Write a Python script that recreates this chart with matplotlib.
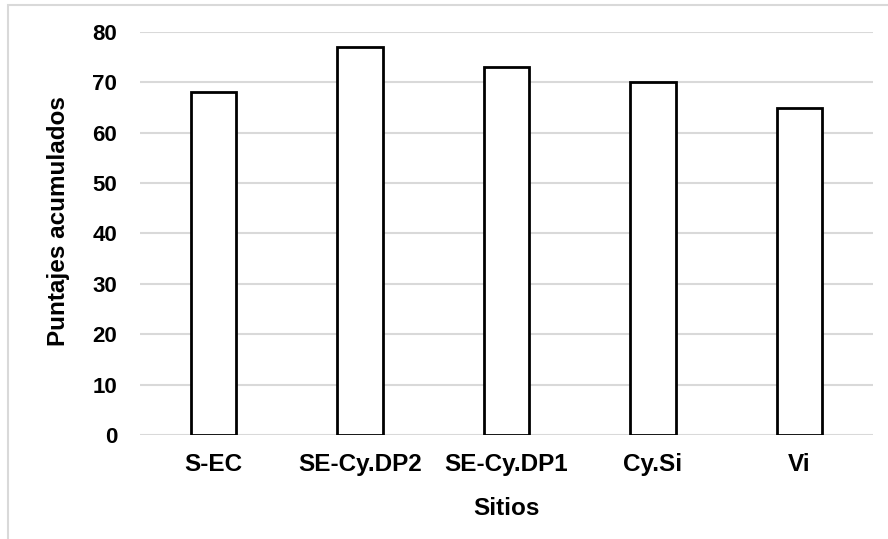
import matplotlib
matplotlib.use("Agg")
import matplotlib.pyplot as plt
from matplotlib.patches import Rectangle

sitios = ["S-EC", "SE-Cy.DP2", "SE-Cy.DP1", "Cy.Si", "Vi"]
puntajes = [68, 77, 73, 70, 65]
y_ticks = [0, 10, 20, 30, 40, 50, 60, 70, 80]

plt.rcParams['font.family'] = ['Liberation Sans', 'DejaVu Sans']
plt.rcParams['font.weight'] = 'bold'

fig = plt.figure(figsize=(8.88, 5.39), dpi=100)
ax = fig.add_axes([0.1577, 0.193, 0.8253, 0.7476])

x = range(len(sitios))
ax.bar(x, puntajes, width=0.31, color='white', edgecolor='black', linewidth=2, zorder=3)

ax.set_xlim(-0.5, len(sitios) - 0.5)
ax.set_ylim(0, 80)
ax.set_yticks(y_ticks)
ax.set_xticks(list(x))
ax.set_xticklabels(sitios)
ax.yaxis.grid(True, color='#d9d9d9', linewidth=1.5, zorder=0)
ax.set_axisbelow(True)
for s in ax.spines.values():
    s.set_visible(False)
ax.tick_params(axis='both', length=0)
ax.tick_params(axis='x', labelsize=17.5, pad=13)
ax.tick_params(axis='y', labelsize=16, pad=16.5)
for lbl in ax.get_xticklabels() + ax.get_yticklabels():
    lbl.set_fontweight('bold')

ax.set_xlabel("Sitios", fontsize=17.5, fontweight='bold', labelpad=15)
ax.set_ylabel("Puntajes acumulados", fontsize=17.5, fontweight='bold')
ax.yaxis.set_label_coords(-0.096, 0.531)

# light chart frame
fig.patches.append(Rectangle((8 / 888, -0.1), 1.2, (539 - 5) / 539 + 0.1,
                             transform=fig.transFigure, fill=False,
                             edgecolor='#d9d9d9', linewidth=1.5))

fig.savefig("out.png", dpi=100)
